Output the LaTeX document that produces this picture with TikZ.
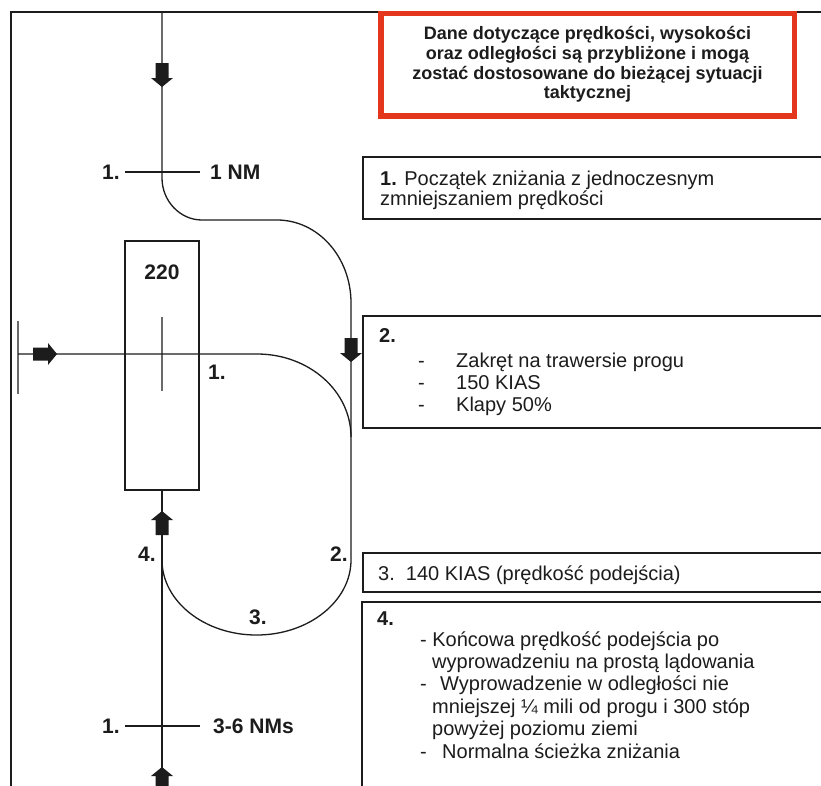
\documentclass[tikz,border=0pt]{standalone}
\usepackage{fontspec}
\setmainfont{Liberation Sans}
\definecolor{ink}{HTML}{1C1C1C}
\definecolor{alert}{HTML}{E4361C}
\definecolor{bar}{HTML}{6A6A6A}
\begin{document}
\begin{tikzpicture}[x=1pt,y=-1pt,
  path/.style={line width=1.3pt, ink},
  boxline/.style={line width=1.3pt, ink},
  graybar/.style={line width=1.6pt, bar},
  lbl/.style={font=\fontsize{21}{21}\selectfont\bfseries, text=ink, inner sep=0},
  txt/.style={font=\fontsize{20}{20}\selectfont, text=ink, inner sep=0, anchor=base west},
  note/.style={font=\fontsize{18}{19.7}\selectfont\bfseries, text=ink, align=center, inner sep=0},
  blockarrow/.pic={\fill[ink] (0,0) -- (-11,-9) -- (-6.5,-9) -- (-6.5,-24) -- (6.5,-24) -- (6.5,-9) -- (11,-9) -- cycle;}
]
\clip (0,0) rectangle (821,785);
\fill[white] (0,0) rectangle (821,785);

% frame
\coordinate (f0) at (11,800);
\coordinate (f1) at (11,12);
\coordinate (f2) at (840,12);
\draw[boxline] (f0) -- (f1) -- (f2);

% red note box
\fill[white] (381,13.5) rectangle (794.5,116);
\draw[alert, line width=5.5pt] (381,13.5) rectangle (794.5,116);
\node[note] (noteTxt) at (587.5,64.5) {Dane dotyczące prędkości, wysokości\\oraz odległości są przybliżone i mogą\\zostać dostosowane do bieżącej sytuacji\\taktycznej};

% runway
\node[draw, line width=1.2pt, ink, minimum width=74pt, minimum height=249pt, inner sep=0] (rw) at (162,365.5) {};
\node[lbl] (rwnum) at (162,272) {220};
\coordinate (cl0) at (162,317);
\coordinate (cl1) at (162,391);
\draw[graybar] (cl0) -- (cl1);

% threshold bar on the left
\coordinate (lb0) at (18,321);
\coordinate (lb1) at (18,394);
\draw[graybar, line width=2pt] (lb0) -- (lb1);

% main circuit path
\coordinate (t0) at (162,12);
\coordinate (t1) at (162,178);
\coordinate (t2) at (202,220);
\coordinate (t3) at (277,220);
\coordinate (t4) at (351,303);
\coordinate (p1) at (351,560);
\coordinate (p2) at (256.5,635);
\coordinate (p3) at (162,560);
\draw[path] (t0) -- (t1) .. controls (162,201) and (180,220) .. (t2) -- (t3)
  .. controls (318,220) and (351,257) .. (t4) -- (p1)
  .. controls (351,601) and (309,635) .. (p2)
  .. controls (204,635) and (162,601) .. (p3);

% final approach line
\coordinate (fa) at (162,800);
\draw[path] (rw.south) -- (fa);

% cross (base) line
\coordinate (c0) at (18,354);
\coordinate (c1) at (257,354);
\coordinate (c2) at (351,437);
\draw[path] (c0) -- (c1) .. controls (309,354) and (351,391) .. (c2);

% distance marks
\coordinate (m1a) at (125,172);
\coordinate (m1b) at (200,172);
\draw[path] (m1a) -- (m1b);
\coordinate (m2a) at (125,726);
\coordinate (m2b) at (200,726);
\draw[path] (m2a) -- (m2b);

% arrows
\pic at (162,87) {blockarrow};
\pic[rotate=90] at (57,354) {blockarrow};
\pic at (351,362) {blockarrow};
\pic[rotate=180] at (162,511) {blockarrow};
\pic[rotate=180] at (162,767) {blockarrow};

% diagram labels
\node[lbl] (l1a) at (111,172) {1.};
\node[lbl, anchor=west] (l1nm) at (210,172) {1 NM};
\node[lbl, anchor=west] (l1b) at (208,372) {1.};
\node[lbl] (l4) at (147,554) {4.};
\node[lbl] (l2) at (339,554) {2.};
\node[lbl] (l3) at (258,617) {3.};
\node[lbl] (l1c) at (111,726) {1.};
\node[lbl, anchor=west] (l36) at (213,726) {3-6 NMs};

% box 1
\draw[boxline] (840,157) -- (363,157) -- (363,219) -- (840,219);
\node[txt] (b1a) at (380,185) {\textbf{1.} Początek zniżania z jednoczesnym};
\node[txt] (b1b) at (380,205) {zmniejszaniem prędkości};

% box 2
\draw[boxline] (840,316) -- (363,316) -- (363,428) -- (840,428);
\node[txt] (b2h) at (379,342) {\textbf{2.}};
\node[txt] (b2d1) at (418,367) {-};
\node[txt] (b2t1) at (456,367) {Zakręt na trawersie progu};
\node[txt] (b2d2) at (418,389) {-};
\node[txt] (b2t2) at (456,389) {150 KIAS};
\node[txt] (b2d3) at (418,411) {-};
\node[txt] (b2t3) at (456,411) {Klapy 50\%};

% box 3
\draw[boxline] (840,553) -- (363,553) -- (363,592) -- (840,592);
\node[txt] (b3) at (378,580) {3.~~140 KIAS (prędkość podejścia)};

% box 4
\draw[boxline] (840,602) -- (362,602) -- (362,800);
\node[txt] (b4h) at (377,625) {\textbf{4.}};
\node[txt] (b4a) at (420,646) {- Końcowa prędkość podejścia po};
\node[txt] (b4b) at (432,668.4) {wyprowadzeniu na prostą lądowania};
\node[txt] (b4c1) at (420,690.8) {-};
\node[txt] (b4c) at (440,690.8) {Wyprowadzenie w odległości nie};
\node[txt] (b4d) at (432,713.2) {mniejszej ¼ mili od progu i 300 stóp};
\node[txt] (b4e) at (432,735.6) {powyżej poziomu ziemi};
\node[txt] (b4f1) at (420,758) {-};
\node[txt] (b4f) at (442,758) {Normalna ścieżka zniżania};
\end{tikzpicture}
\end{document}
